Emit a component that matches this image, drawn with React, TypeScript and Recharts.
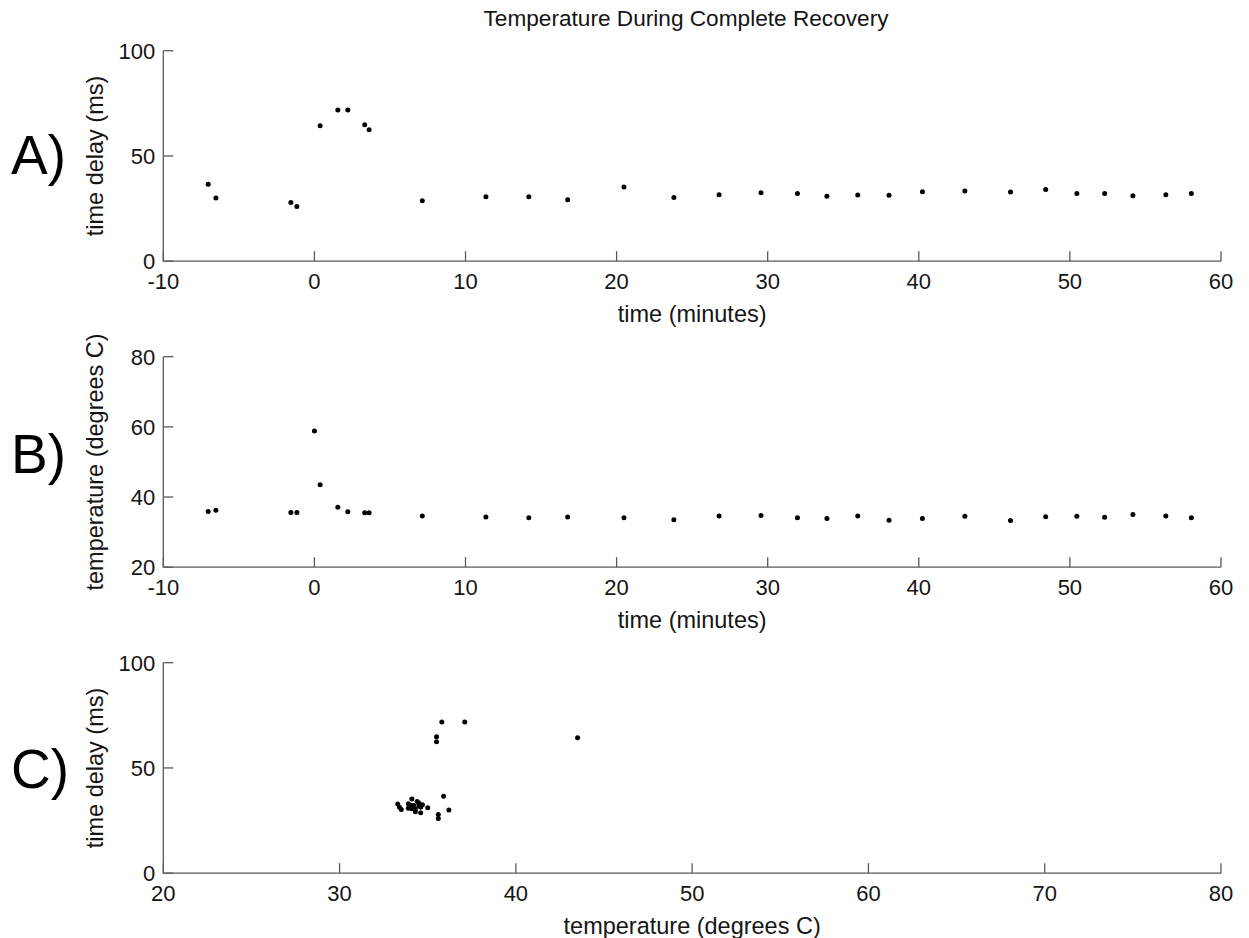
import React from 'react';
import { ScatterChart, Scatter, XAxis, YAxis } from 'recharts';

// time (minutes) of each recording, shared by panels A, B and C
const timeMin = [
  -7.03, -6.52, -1.56, -1.16, 0.38, 1.55, 2.21, 3.33, 3.62, 7.14,
  11.35, 14.19, 16.76, 20.49, 23.79, 26.78, 29.56, 31.97, 33.92, 35.96,
  38.03, 40.24, 43.05, 46.07, 48.4, 50.46, 52.3, 54.17, 56.35, 58.04,
];

// time delay (ms)
const delayMs = [
  36.5, 30.0, 27.9, 26.0, 64.3, 71.8, 71.8, 64.8, 62.4, 28.7,
  30.6, 30.6, 29.2, 35.2, 30.2, 31.6, 32.5, 32.2, 30.8, 31.4,
  31.3, 33.0, 33.3, 32.9, 34.1, 32.2, 32.2, 31.1, 31.6, 32.2,
];

// temperature (degrees C)
const tempC = [
  35.9, 36.2, 35.6, 35.6, 43.5, 37.1, 35.8, 35.5, 35.5, 34.6,
  34.3, 34.1, 34.3, 34.1, 33.5, 34.6, 34.7, 34.1, 33.9, 34.6,
  33.4, 33.9, 34.5, 33.3, 34.4, 34.5, 34.2, 35.0, 34.6, 34.1,
];

// extra temperature reading with no matching delay
const spikeTime = [0];
const spikeTemp = [58.8];

const timeTicks = [-10, 0, 10, 20, 30, 40, 50, 60];
const delayTicks = [0, 50, 100];
const tempTicks = [20, 40, 60, 80];
const tempAxisTicks = [20, 30, 40, 50, 60, 70, 80];

const FONT = '"Liberation Sans", Arial, Helvetica, sans-serif';
const AXIS = '#5a5a5a';
const TEXT = '#151515';
const TICK_LEN = 10;

const W = 1249;
const LEFT = 163.3;
const RIGHT = 28;
const TOP = 50.7;
const PLOT_H = 210.5;
const X_AXIS_H = 104;

function BottomTick(props: any) {
  const { x, y, payload } = props;
  return (
    <g>
      <line x1={x} x2={x} y1={y} y2={y - TICK_LEN} stroke={AXIS} strokeWidth={1.3} />
      <text x={x} y={y + 28} textAnchor="middle" fontSize={22} fill={TEXT} fontFamily={FONT}>
        {payload.value}
      </text>
    </g>
  );
}

function LeftTick(props: any) {
  const { x, y, payload } = props;
  return (
    <g>
      <line x1={x} x2={x + TICK_LEN} y1={y} y2={y} stroke={AXIS} strokeWidth={1.3} />
      <text x={x - 8} y={y + 8} textAnchor="end" fontSize={22} fill={TEXT} fontFamily={FONT}>
        {payload.value}
      </text>
    </g>
  );
}

function TopTick(props: any) {
  const { x, y } = props;
  return <line x1={x} x2={x} y1={y} y2={y + TICK_LEN} stroke={AXIS} strokeWidth={1.3} />;
}

function RightTick(props: any) {
  const { x, y } = props;
  return <line x1={x} x2={x - TICK_LEN} y1={y} y2={y} stroke={AXIS} strokeWidth={1.3} />;
}

const dot = (p: any) => <circle cx={p.cx} cy={p.cy} r={2.5} fill="#000" />;

interface PanelProps {
  top: number;
  data: { x: number; y: number }[];
  xDomain: [number, number];
  xTicks: number[];
  yDomain: [number, number];
  yTicks: number[];
  xLabel: string;
  yLabel: string;
}

function Panel({ top, data, xDomain, xTicks, yDomain, yTicks, xLabel, yLabel }: PanelProps) {
  const axisLine = { stroke: AXIS, strokeWidth: 1.3 };
  const labelStyle = { fontSize: 23.5, fill: TEXT, fontFamily: FONT };
  return (
    <div style={{ position: 'absolute', left: 0, top }}>
      <ScatterChart
        width={W}
        height={TOP + PLOT_H + X_AXIS_H}
        margin={{ top: TOP, right: RIGHT, bottom: 0, left: 0 }}
      >
        <XAxis
          dataKey="x"
          type="number"
          domain={xDomain}
          ticks={xTicks}
          interval={0}
          allowDataOverflow
          height={X_AXIS_H}
          tickSize={0}
          tickMargin={0}
          tickLine={false}
          axisLine={axisLine}
          tick={BottomTick}
          label={{ value: xLabel, position: 'center', ...labelStyle }}
        />
        <XAxis
          xAxisId="top"
          orientation="top"
          type="number"
          domain={xDomain}
          ticks={xTicks}
          interval={0}
          allowDataOverflow
          height={0}
          tickSize={0}
          tickMargin={0}
          tickLine={false}
          axisLine={axisLine}
          tick={TopTick}
        />
        <YAxis
          dataKey="y"
          type="number"
          domain={yDomain}
          ticks={yTicks}
          interval={0}
          allowDataOverflow
          width={LEFT}
          tickSize={0}
          tickMargin={0}
          tickLine={false}
          axisLine={axisLine}
          tick={LeftTick}
          label={{ value: yLabel, angle: -90, position: 'center', dx: 13, ...labelStyle }}
        />
        <YAxis
          yAxisId="right"
          orientation="right"
          type="number"
          domain={yDomain}
          ticks={yTicks}
          interval={0}
          allowDataOverflow
          width={0}
          tickSize={0}
          tickMargin={0}
          tickLine={false}
          axisLine={axisLine}
          tick={RightTick}
        />
        <Scatter data={data} fill="#000" shape={dot} isAnimationActive={false} />
      </ScatterChart>
    </div>
  );
}

export default function App() {
  const delayVsTime = timeMin.map((t, i) => ({ x: t, y: delayMs[i] }));
  const tempVsTime = [
    ...timeMin.map((t, i) => ({ x: t, y: tempC[i] })),
    ...spikeTime.map((t, i) => ({ x: t, y: spikeTemp[i] })),
  ];
  const delayVsTemp = tempC.map((c, i) => ({ x: c, y: delayMs[i] }));

  const bigLetter = { fontSize: 55, fill: '#000', fontFamily: FONT };

  return (
    <div
      style={{
        position: 'absolute',
        left: 0,
        top: 0,
        width: W,
        height: 938,
        overflow: 'hidden',
        background: '#fff',
      }}
    >
      <Panel
        top={0}
        data={delayVsTime}
        xDomain={[-10, 60]}
        xTicks={timeTicks}
        yDomain={[0, 100]}
        yTicks={delayTicks}
        xLabel="time (minutes)"
        yLabel="time delay (ms)"
      />
      <Panel
        top={306}
        data={tempVsTime}
        xDomain={[-10, 60]}
        xTicks={timeTicks}
        yDomain={[20, 80]}
        yTicks={tempTicks}
        xLabel="time (minutes)"
        yLabel="temperature (degrees C)"
      />
      <Panel
        top={611.8}
        data={delayVsTemp}
        xDomain={[20, 80]}
        xTicks={tempAxisTicks}
        yDomain={[0, 100]}
        yTicks={delayTicks}
        xLabel="temperature (degrees C)"
        yLabel="time delay (ms)"
      />
      <svg
        width={W}
        height={938}
        style={{ position: 'absolute', left: 0, top: 0, pointerEvents: 'none' }}
      >
        <text
          x={686}
          y={26}
          textAnchor="middle"
          fontSize={22}
          fill={TEXT}
          fontFamily={FONT}
          textLength={405}
          lengthAdjust="spacingAndGlyphs"
        >
          Temperature During Complete Recovery
        </text>
        <text x={11} y={174} {...bigLetter}>A)</text>
        <text x={11} y={473} {...bigLetter}>B)</text>
        <text x={11} y={788} {...bigLetter}>C)</text>
      </svg>
    </div>
  );
}
